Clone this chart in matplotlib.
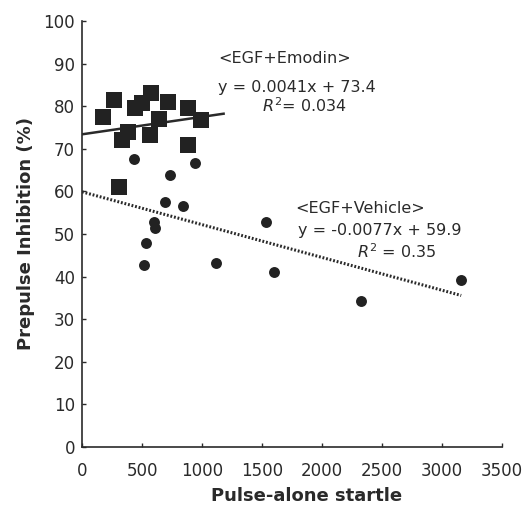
import numpy as np
import matplotlib.pyplot as plt

plt.rcParams['font.family'] = ['DejaVu Sans']

# EGF + Emodin (squares)
emodin_x = [178, 267, 331, 386, 442, 497, 575, 567, 644, 719, 886, 886, 992, 311]
emodin_y = [77.5, 81.5, 72.0, 74.0, 79.5, 80.7, 83.0, 73.2, 77.1, 81.0, 79.5, 70.9, 76.8, 61.0]

# EGF + Vehicle (circles)
vehicle_x = [436, 942, 733, 692, 844, 603, 608, 533, 517, 1114, 1533, 1600, 2325, 3158]
vehicle_y = [67.5, 66.7, 63.8, 57.6, 56.6, 52.9, 51.3, 47.8, 42.7, 43.3, 52.9, 41.0, 34.3, 39.2]

# regression fits
emodin_fit = (0.0041, 73.4)
vehicle_fit = (-0.0077, 59.9)
emodin_range = [0, 1180]
vehicle_range = [0, 3160]

ink = '#2a2a2a'

fig = plt.figure(figsize=(5.25, 5.08), dpi=100)
ax = fig.add_axes([82/525, 1-447/508, 420/525, 426/508])

ax.scatter(emodin_x, emodin_y, marker='s', s=125, color='#222222', zorder=3, linewidths=0)
ax.scatter(vehicle_x, vehicle_y, marker='o', s=62, color='#222222', zorder=3, linewidths=0)

xe = np.array(emodin_range)
ax.plot(xe, emodin_fit[0]*xe + emodin_fit[1], color=ink, lw=1.8, zorder=2)
xv = np.array(vehicle_range)
ax.plot(xv, vehicle_fit[0]*xv + vehicle_fit[1], color=ink, lw=2.2, ls=(0, (0.6, 0.6)), zorder=2)

ax.set_xlim(0, 3500)
ax.set_ylim(0, 100)
ax.set_xticks(np.arange(0, 3501, 500))
ax.set_yticks(np.arange(0, 101, 10))
ax.spines['top'].set_visible(False)
ax.spines['right'].set_visible(False)
for s in ['left', 'bottom']:
    ax.spines[s].set_color(ink)
    ax.spines[s].set_linewidth(1.2)
ax.tick_params(direction='in', length=3, width=1, colors=ink, labelsize=12)
ax.tick_params(axis='x', pad=11)
ax.tick_params(axis='y', pad=5)

ax.set_xlabel('Pulse-alone startle', fontsize=13, fontweight='bold', color=ink)
ax.set_ylabel('Prepulse Inhibition (%)', fontsize=13, fontweight='bold', color=ink, labelpad=6)
ax.xaxis.set_label_coords(0.535, -0.093)

tk = dict(fontsize=11.5, color=ink, va='center', ha='left')
ax.text(1133, 91.1, '<EGF+Emodin>', **tk)
ax.text(1133, 84.5, 'y = 0.0041x + 73.4', **tk)
ax.text(1500, 80.2, '$R^2$= 0.034', **tk)

ax.text(1775, 56.1, '<EGF+Vehicle>', **tk)
ax.text(1800, 50.9, 'y = -0.0077x + 59.9', **tk)
ax.text(2290, 45.8, '$R^2$ = 0.35', **tk)

fig.savefig('out.png', dpi=100)
